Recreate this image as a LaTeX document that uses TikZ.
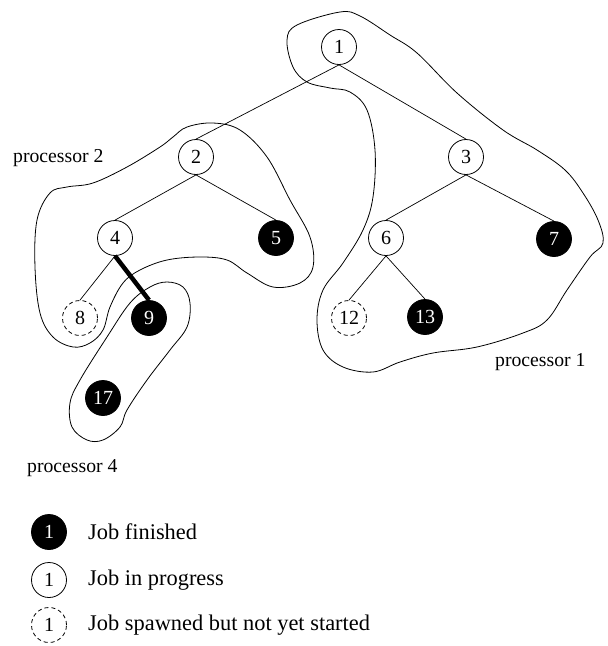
\documentclass[tikz,border=0pt]{standalone}
\usepackage{fontspec}
\setmainfont{Liberation Serif}
\begin{document}
\begin{tikzpicture}[x=1pt,y=-1pt,
  job/.style={circle,draw,line width=0.8pt,minimum size=35pt,inner sep=0pt,font=\fontsize{20}{22}\selectfont},
  done/.style={job,fill=black,text=white},
  prog/.style={job},
  spawn/.style={job,dash pattern=on 4pt off 3pt},
  edge/.style={line width=0.7pt},
  blobline/.style={line width=0.8pt},
  plabel/.style={font=\fontsize{19.7}{22}\selectfont,inner sep=0pt,anchor=west},
  ltext/.style={font=\fontsize{22.4}{24}\selectfont,inner sep=0pt,anchor=west}]
\useasboundingbox (0,0) rectangle (608,646);
% blobs
\draw[blobline] plot[smooth cycle,tension=0.6] coordinates {(297,25) (340,12) (360,16) (390,35) (417,53) (457,93) (503,130) (537,150) (565,170) (583,193) (598,220) (603,243) (590,257) (567,290) (547,320) (523,333) (477,347) (433,353) (400,362) (373,372) (343,367) (323,350) (317,320) (323,290) (343,263) (363,230) (373,197) (375,150) (367,110) (350,92) (330,88) (307,82) (293,67) (287,40)};
\draw[blobline] plot[smooth cycle,tension=0.6] coordinates {(173,137) (187,127) (213,123) (240,130) (267,157) (290,200) (310,237) (313,267) (300,283) (273,287) (247,273) (227,260) (200,257) (167,260) (140,270) (123,283) (110,307) (103,330) (90,343) (73,347) (53,337) (40,313) (35,267) (37,220) (50,193) (67,187) (93,183) (127,167) (160,147)};
\draw[blobline] plot[smooth cycle,tension=0.6] coordinates {(150,287) (167,282) (183,287) (190,303) (187,327) (170,350) (147,380) (127,410) (120,427) (103,440) (87,440) (72,427) (70,403) (80,380) (107,337) (130,303)};
% nodes
\node[prog] (n1) at (339,47) {1};
\node[prog] (n2) at (196,157) {2};
\node[prog] (n3) at (466,157) {3};
\node[prog] (n4) at (115,238) {4};
\node[done] (n5) at (276,238) {5};
\node[prog] (n6) at (386,238) {6};
\node[done] (n7) at (554,239) {7};
\node[spawn] (n8) at (80,318) {8};
\node[done] (n9) at (149,318) {9};
\node[spawn] (n12) at (349,318) {12};
\node[done] (n13) at (425,317) {13};
\node[done] (n17) at (103,398) {17};
% edges
\draw[edge] (n1.south) -- (n2.north);
\draw[edge] (n1.south) -- (n3.north);
\draw[edge] (n2.south) -- (n4.north);
\draw[edge] (n2.south) -- (n5.north);
\draw[edge] (n3.south) -- (n6.north);
\draw[edge] (n3.south) -- (n7.north);
\draw[edge] (n4.south) -- (n8.north);
\draw[line width=4.5pt] (n4.south) -- (n9.north);
\draw[edge] (n6.south) -- (n12.north);
\draw[edge] (n6.south) -- (n13.north);
% labels
\node[plabel] (p2) at (13,158) {processor 2};
\node[plabel] (p1) at (495,362) {processor 1};
\node[plabel] (p4) at (27,468) {processor 4};
% legend
\node[done] (l1) at (49,532) {1};
\node[prog] (l2) at (49,580) {1};
\node[spawn] (l3) at (49,625) {1};
\node[ltext] (t1) at (88,532) {Job finished};
\node[ltext] (t2) at (88,580) {Job in progress};
\node[ltext] (t3) at (88,625) {Job spawned but not yet started};
\end{tikzpicture}
\end{document}
